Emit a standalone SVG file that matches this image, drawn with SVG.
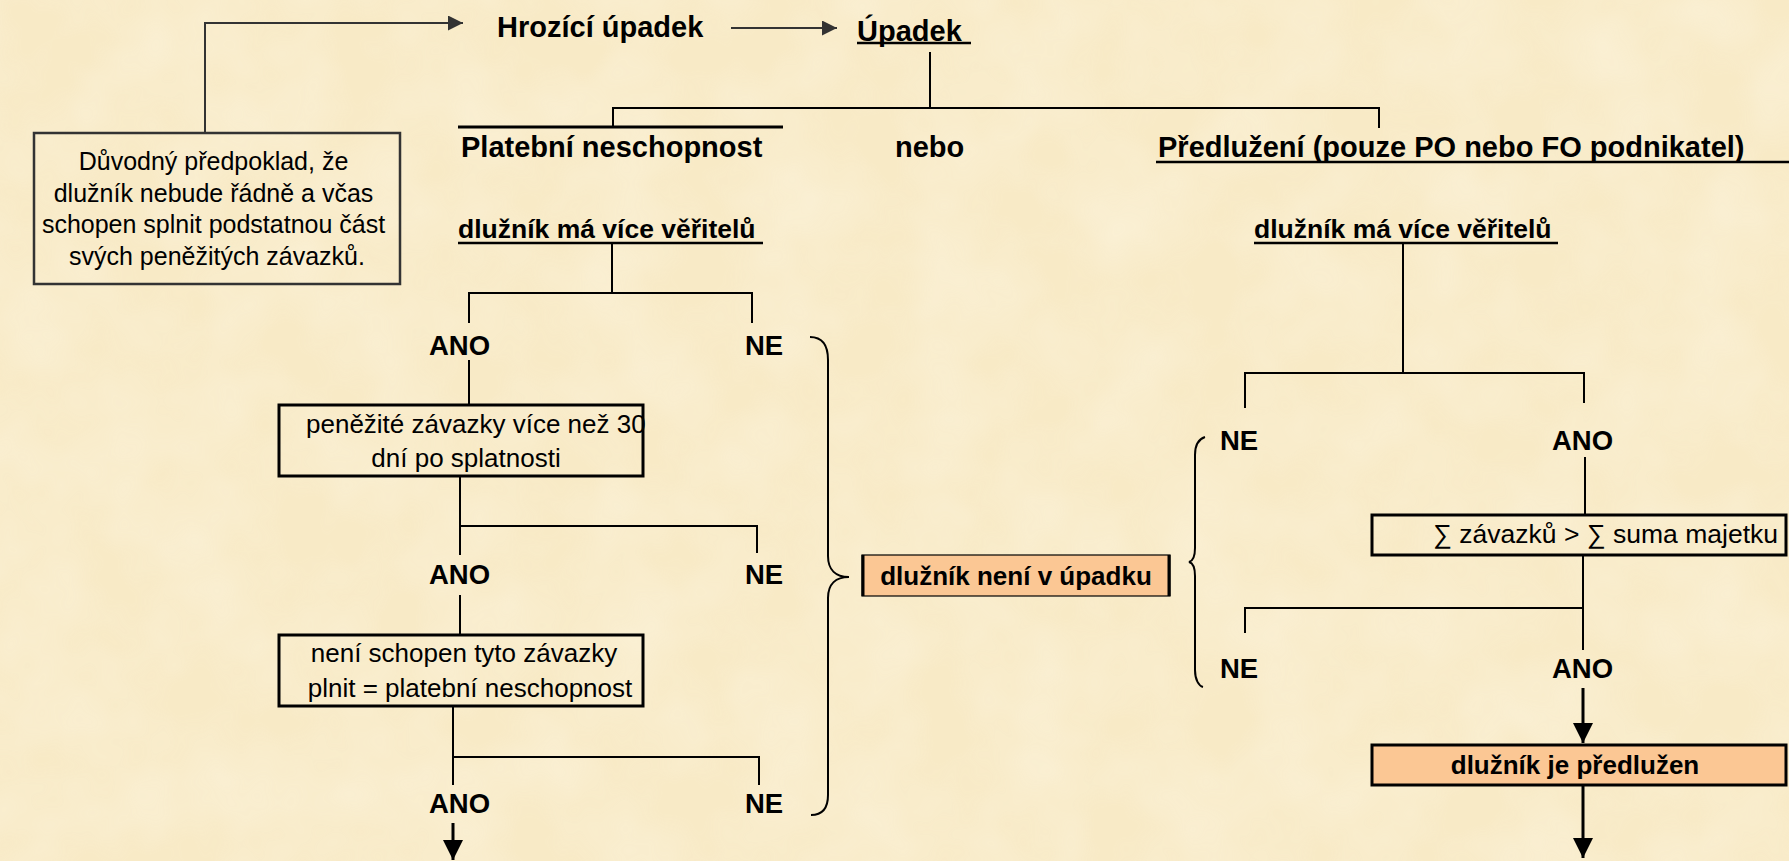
<svg xmlns="http://www.w3.org/2000/svg" width="1789" height="861" viewBox="0 0 1789 861">
<style>
.b{font-family:"Liberation Sans",Arial,sans-serif;font-weight:bold;fill:#000}
.r{font-family:"Liberation Sans",Arial,sans-serif;font-weight:normal;fill:#000}
.t29{font-size:29px}
.t26{font-size:26.5px}
.t27{font-size:27.5px}
.ln{stroke:#000;stroke-width:2;fill:none}
.gl{stroke:#333;stroke-width:2;fill:none}
.ul{stroke:#000;stroke-width:2.5;fill:none}
.th{stroke:#000;stroke-width:3;fill:none}
.box{fill:none;stroke:#000;stroke-width:3}
.obox{fill:#FBC794;stroke:#000;stroke-width:3}
</style>
<defs>
<filter id="tex" x="0" y="0" width="100%" height="100%">
<feTurbulence type="fractalNoise" baseFrequency="0.012" numOctaves="3" seed="4"/>
<feColorMatrix type="matrix" values="0 0 0 0 1  0 0 0 0 0.97  0 0 0 0 0.88  0 0 0 0.9 -0.25"/>
</filter>
<marker id="ag" markerUnits="userSpaceOnUse" markerWidth="16" markerHeight="16" refX="15" refY="7.5" orient="auto">
<path d="M0,0 L15,7.5 L0,15 z" fill="#333"/>
</marker>
<marker id="ab" markerUnits="userSpaceOnUse" markerWidth="22" markerHeight="22" refX="20" refY="10" orient="auto">
<path d="M0,0 L20,10 L0,20 z" fill="#000"/>
</marker>
</defs>
<rect width="1789" height="861" fill="#F8EAC6"/>
<rect width="1789" height="861" filter="url(#tex)" opacity="0.55"/>

<g id="connectors">
<path class="gl" d="M205,133 V23 H463" marker-end="url(#ag)"/>
<line class="gl" x1="731" y1="28" x2="837" y2="28" marker-end="url(#ag)"/>
<path class="ln" d="M930,52 V108 M613,127 V108 H1379 V128"/>
<line class="th" x1="458" y1="127" x2="783" y2="127"/>
<path class="ln" d="M612,243 V293 M469,323 V293 H752 V323 M469,360 V405"/>
<path class="ln" d="M460,476 V555 M460,526 H757 V553 M460,595 V635"/>
<path class="ln" d="M453,706 V785 M453,757 H759 V785"/>
<line class="th" x1="453" y1="823" x2="453" y2="860" marker-end="url(#ab)"/>
<path class="ln" d="M810,337 C822,337 828,345 828,360 L828,556 C828,570 836,577 849,577 C836,577 828,584 828,598 L828,795 C828,808 822,815 811,815"/>
<path class="ln" d="M1205,437 C1199,439 1195,445 1195,455 L1195,548 C1195,556 1193,561 1189,562 C1193,563 1195,568 1195,576 L1195,670 C1195,680 1199,686 1203,687"/>
<path class="ln" d="M1403,243 V373 M1245,408 V373 H1584 V403 M1585,457 V515"/>
<path class="ln" d="M1583,555 V650 M1583,608 H1245 V633"/>
<line class="th" x1="1583" y1="688" x2="1583" y2="743" marker-end="url(#ab)"/>
<line class="th" x1="1583" y1="785" x2="1583" y2="858" marker-end="url(#ab)"/>
</g>

<g id="n_duvodny">
<rect x="34" y="133" width="366" height="151" fill="none" stroke="#333" stroke-width="2.5"/>
<text class="r" font-size="25" text-anchor="middle">
<tspan x="217" y="170">Důvodný předpoklad, že</tspan>
<tspan x="217" y="202">dlužník nebude řádně a včas</tspan>
<tspan x="217" y="233">schopen splnit podstatnou část</tspan>
<tspan x="217" y="265">svých peněžitých závazků.</tspan>
</text>
</g>

<g id="n_hrozici"><text class="b t29" x="497" y="37">Hrozící úpadek</text></g>
<g id="n_upadek"><text class="b t29" x="857" y="41">Úpadek</text><line class="ul" x1="857" y1="43" x2="971" y2="43"/></g>
<g id="n_platebni"><text class="b t29" x="461" y="157">Platební neschopnost</text></g>
<g id="n_nebo"><text class="b t29" x="895" y="157">nebo</text></g>
<g id="n_predluzeni"><text class="b t29" x="1158" y="157">Předlužení (pouze PO nebo FO podnikatel)</text><line class="ul" x1="1156" y1="162" x2="1789" y2="162"/></g>

<g id="n_veritelu_l"><text class="b t26" x="458" y="238">dlužník má více věřitelů</text><line class="ul" x1="458" y1="243" x2="763" y2="243"/></g>
<g id="n_ano1"><text class="b t27" x="429" y="355">ANO</text></g>
<g id="n_ne1"><text class="b t27" x="745" y="355">NE</text></g>
<g id="n_zavazky30">
<rect class="box" x="279" y="405" width="364" height="71"/>
<text class="r" font-size="26" x="306" y="433">peněžité závazky více než 30</text>
<text class="r" font-size="26" x="466" y="467" text-anchor="middle">dní po splatnosti</text>
</g>
<g id="n_ano2"><text class="b t27" x="429" y="584">ANO</text></g>
<g id="n_ne2"><text class="b t27" x="745" y="584">NE</text></g>
<g id="n_neschopen">
<rect class="box" x="279" y="635" width="364" height="71"/>
<text class="r" font-size="26" x="464" y="662" text-anchor="middle">není schopen tyto závazky</text>
<text class="r" font-size="26" x="470" y="697" text-anchor="middle">plnit = platební neschopnost</text>
</g>
<g id="n_ano3"><text class="b t27" x="429" y="813">ANO</text></g>
<g id="n_ne3"><text class="b t27" x="745" y="813">NE</text></g>

<g id="n_neni_upadek">
<rect x="862" y="555" width="308" height="41" fill="#FBC794" stroke="#000" stroke-width="1.2"/>
<line class="th" x1="863" y1="555" x2="863" y2="596"/>
<line class="th" x1="1169" y1="555" x2="1169" y2="596"/>
<text class="b" font-size="26" x="1016" y="585" text-anchor="middle">dlužník není v úpadku</text>
</g>

<g id="n_veritelu_r"><text class="b t26" x="1254" y="238">dlužník má více věřitelů</text><line class="ul" x1="1254" y1="243" x2="1558" y2="243"/></g>
<g id="n_ne_r1"><text class="b t27" x="1220" y="450">NE</text></g>
<g id="n_ano_r1"><text class="b t27" x="1552" y="450">ANO</text></g>
<g id="n_suma">
<rect class="box" x="1372" y="515" width="414" height="40"/>
<text class="r" font-size="26.5" x="1778" y="543" text-anchor="end">∑ závazků &gt; ∑ suma majetku</text>
</g>
<g id="n_ne_r2"><text class="b t27" x="1220" y="678">NE</text></g>
<g id="n_ano_r2"><text class="b t27" x="1552" y="678">ANO</text></g>
<g id="n_predluzen">
<rect class="obox" x="1372" y="745" width="414" height="40"/>
<text class="b" font-size="26" x="1575" y="774" text-anchor="middle">dlužník je předlužen</text>
</g>
</svg>
